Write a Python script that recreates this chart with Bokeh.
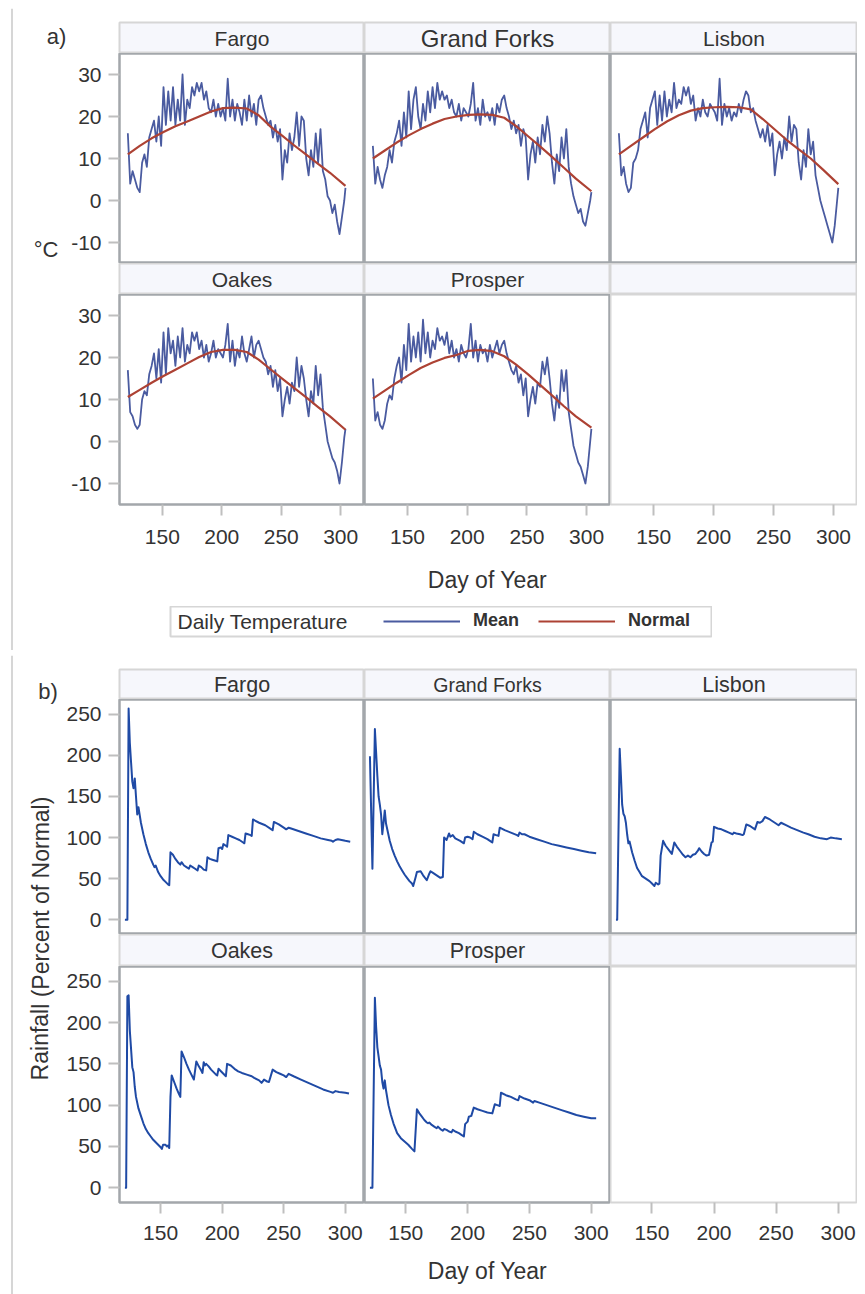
from bokeh.plotting import figure
from bokeh.layouts import row, column
from bokeh.models import Range1d, FixedTicker, Label, Legend, LegendItem, Span
from bokeh.embed import file_html
from bokeh.resources import INLINE
from bokeh.core.properties import value

# ---------------- data ----------------
STATIONS = ["Fargo", "Grand Forks", "Lisbon", "Oakes", "Prosper"]

DAYS_T = list(range(121, 304, 2)) + [304]

MEAN_FARGO = [16, 4, 7, 5, 3, 2, 9, 11, 8, 15,
              17, 19, 14, 20, 13, 27, 18, 26, 19, 27,
              18, 24, 19, 30, 18, 24, 22, 27, 25, 28,
              26, 28, 24, 26, 22, 21, 24, 20, 23, 20,
              22, 19, 29, 20, 24, 19, 23, 21, 18, 24,
              19, 25, 20, 23, 18, 24, 25, 22, 20, 18,
              19, 15, 18, 14, 17, 5, 12, 9, 16, 12,
              15, 21, 13, 20, 19, 10, 6, 12, 8, 16,
              9, 17, 7, 5, 1, 0, -3, -1, -5, -8,
              -4, 0, 3]
MEAN_GRANDFORKS = [13, 4, 8, 5, 3, 6, 8, 12, 9, 14,
                   16, 19, 13, 21, 15, 26, 17, 24, 27, 20,
                   17, 23, 19, 26, 21, 27, 22, 28, 24, 26,
                   24, 25, 22, 24, 21, 20, 23, 19, 22, 21,
                   20, 23, 28, 19, 22, 18, 24, 20, 21, 19,
                   22, 18, 23, 21, 24, 25, 22, 20, 17, 19,
                   16, 18, 13, 17, 15, 5, 11, 14, 9, 15,
                   11, 18, 14, 20, 16, 9, 4, 11, 7, 15,
                   10, 17, 8, 4, 1, -1, -3, -2, -5, -6,
                   -3, 0, 2]
MEAN_LISBON = [16, 6, 8, 4, 2, 3, 9, 10, 12, 17,
               19, 21, 15, 22, 24, 26, 18, 25, 19, 26,
               20, 24, 21, 28, 22, 24, 23, 27, 25, 27,
               23, 25, 19, 22, 20, 24, 21, 20, 23, 22,
               21, 19, 29, 18, 23, 20, 22, 19, 21, 20,
               23, 21, 24, 26, 25, 21, 22, 19, 17, 15,
               17, 14, 18, 13, 16, 6, 11, 14, 10, 15,
               12, 20, 14, 18, 17, 9, 5, 12, 8, 17,
               11, 14, 6, 3, 0, -2, -4, -6, -8, -10,
               -6, 0, 3]
MEAN_OAKES = [17, 7, 6, 4, 3, 4, 10, 12, 11, 16,
              18, 21, 15, 22, 14, 26, 16, 27, 21, 24,
              18, 25, 20, 27, 19, 23, 21, 26, 24, 26,
              22, 24, 20, 23, 19, 21, 24, 20, 22, 21,
              20, 23, 28, 19, 24, 18, 22, 20, 25, 21,
              19, 22, 25, 20, 23, 24, 22, 20, 19, 16,
              18, 13, 17, 12, 15, 6, 10, 13, 9, 14,
              12, 20, 13, 18, 15, 10, 6, 12, 9, 18,
              11, 16, 8, 4, 0, -2, -4, -5, -7, -10,
              -5, 1, 3]
MEAN_PROSPER = [15, 5, 7, 4, 3, 5, 9, 11, 10, 15,
                18, 20, 14, 23, 17, 28, 19, 25, 20, 26,
                19, 29, 21, 26, 20, 24, 22, 27, 24, 25,
                23, 26, 21, 24, 20, 22, 19, 23, 21, 20,
                22, 28, 20, 24, 19, 23, 21, 22, 19, 23,
                20, 22, 24, 21, 23, 24, 21, 19, 17, 16,
                18, 14, 16, 11, 15, 6, 10, 13, 9, 14,
                13, 19, 16, 20, 15, 9, 5, 11, 8, 17,
                12, 17, 7, 3, -1, -3, -5, -6, -8, -10,
                -6, 0, 3]

NORM_DAYS = [121, 131, 141, 151, 161, 171, 181, 191, 201, 211,
             221, 231, 241, 251, 261, 271, 281, 291, 304]
NORM_FARGO = [11.0, 13.0, 14.8, 16.3, 17.7, 18.8, 20.0, 21.2, 22.0, 22.1,
              21.9, 20.3, 17.6, 15.4, 13.1, 10.9, 8.7, 6.6, 3.5]
NORM_GRANDFORKS = [10.0, 11.9, 13.8, 15.5, 17.0, 18.3, 19.4, 20.0, 20.4, 20.5,
                   20.4, 19.7, 17.7, 15.3, 12.9, 10.4, 7.8, 5.2, 2.2]
NORM_LISBON = [11.0, 13.0, 15.0, 17.0, 18.8, 20.3, 21.4, 22.0, 22.2, 22.3,
               22.2, 21.7, 19.4, 16.9, 14.4, 12.2, 10.0, 7.4, 3.9]
NORM_OAKES = [10.6, 12.3, 14.0, 15.6, 17.1, 18.6, 20.1, 21.3, 21.8, 21.8,
              21.3, 19.5, 17.2, 14.9, 12.7, 10.5, 8.2, 6.0, 2.8]
NORM_PROSPER = [10.2, 12.1, 14.0, 15.8, 17.5, 18.8, 19.9, 20.6, 21.6, 21.8,
                21.5, 20.3, 18.3, 16.0, 13.5, 11.0, 8.4, 6.0, 3.3]

RAIN_DAYS_FARGO = [121, 123, 124, 125, 127, 128, 129, 130, 131, 132,
                   134, 136, 138, 140, 142, 144, 145, 146, 148, 150,
                   152, 154, 156, 157, 158, 160, 162, 164, 166, 167,
                   169, 171, 173, 174, 176, 178, 180, 181, 183, 185,
                   187, 188, 190, 192, 194, 196, 197, 199, 200, 201,
                   203, 204, 205, 208, 211, 214, 217, 218, 219, 221,
                   223, 224, 225, 230, 235, 240, 241, 242, 246, 250,
                   252, 254, 256, 262, 268, 274, 280, 286, 289, 290,
                   292, 294, 297, 300, 304]
RAIN_FARGO = [0, 0, 257, 215, 168, 160, 172, 150, 128, 137,
              118, 104, 92, 82, 74, 67, 64, 66, 58, 53,
              49, 46, 43, 42, 82, 79, 74, 70, 67, 70,
              66, 64, 62, 66, 64, 62, 60, 66, 64, 61,
              60, 76, 74, 73, 72, 71, 87, 88, 86, 92,
              90, 89, 103, 101, 99, 97, 94, 93, 105, 104,
              103, 102, 122, 118, 115, 110, 109, 119, 116, 112,
              110, 112, 111, 108, 105, 102, 99, 97, 96, 95,
              97, 98, 97, 96, 95]

RAIN_DAYS_GRANDFORKS = [121, 123, 125, 127, 128, 129, 130, 131, 132, 133,
                        134, 135, 137, 139, 141, 143, 145, 147, 149, 151,
                        153, 155, 156, 158, 159, 162, 164, 167, 169, 170,
                        172, 175, 178, 180, 181, 183, 185, 186, 188, 190,
                        194, 197, 198, 200, 202, 204, 205, 208, 212, 216,
                        219, 220, 221, 223, 225, 226, 230, 235, 240, 241,
                        242, 244, 246, 250, 256, 262, 268, 274, 280, 286,
                        292, 298, 304]
RAIN_GRANDFORKS = [199, 62, 232, 175, 150, 140, 128, 104, 118, 133,
                   117, 110, 96, 86, 78, 71, 65, 60, 55, 51,
                   47, 44, 41, 52, 58, 59, 54, 48, 56, 59,
                   57, 54, 51, 52, 100, 97, 105, 101, 103, 99,
                   96, 93, 100, 101, 100, 98, 107, 104, 101, 98,
                   95, 94, 104, 103, 102, 112, 109, 106, 103, 102,
                   106, 104, 104, 101, 98, 95, 92, 90, 88, 86,
                   84, 82, 81]

RAIN_DAYS_LISBON = [121, 122, 124, 125, 126, 127, 128, 129, 130, 131,
                    132, 134, 136, 138, 140, 142, 145, 148, 150, 152,
                    153, 155, 156, 157, 159, 161, 164, 166, 168, 170,
                    173, 175, 177, 179, 181, 183, 185, 187, 188, 190,
                    192, 194, 196, 198, 199, 200, 203, 206, 209, 212,
                    215, 216, 218, 221, 223, 224, 226, 229, 233, 235,
                    237, 239, 241, 245, 249, 252, 254, 258, 262, 267,
                    272, 276, 281, 286, 291, 294, 298, 303]
RAIN_LISBON = [0, 0, 208, 175, 140, 129, 126, 118, 104, 93,
               95, 82, 72, 63, 58, 53, 50, 47, 44, 41,
               45, 43, 44, 78, 96, 90, 84, 80, 94, 89,
               83, 79, 76, 78, 76, 79, 80, 84, 87, 83,
               80, 78, 79, 94, 95, 113, 111, 110, 108, 106,
               104, 106, 105, 104, 103, 104, 116, 114, 110, 119,
               118, 120, 125, 122, 118, 115, 118, 115, 112, 109,
               106, 104, 101, 99, 98, 100, 99, 98]

RAIN_DAYS_OAKES = [121, 122, 123, 124, 125, 127, 128, 129, 130, 132,
                   134, 136, 138, 140, 142, 144, 146, 148, 150, 151,
                   152, 154, 155, 156, 157, 158, 159, 161, 163, 165,
                   166, 167, 169, 171, 173, 175, 177, 179, 181, 183,
                   184, 185, 186, 187, 189, 191, 193, 195, 196, 197,
                   199, 201, 203, 204, 207, 210, 213, 216, 220, 224,
                   226, 230, 232, 234, 236, 238, 241, 244, 247, 250,
                   252, 254, 258, 264, 270, 276, 282, 288, 290, 292,
                   295, 300, 303]
RAIN_OAKES = [0, 0, 232, 233, 190, 146, 140, 122, 110, 96,
              87, 78, 71, 66, 62, 58, 55, 52, 49, 47,
              52, 52, 50, 51, 48, 110, 136, 128, 120, 113,
              110, 165, 158, 150, 143, 137, 131, 153, 147, 142,
              139, 152, 148, 150, 147, 143, 140, 137, 136, 144,
              141, 138, 135, 150, 148, 144, 141, 139, 137, 135,
              133, 130, 127, 131, 129, 128, 143, 140, 138, 136,
              134, 138, 135, 131, 127, 123, 119, 116, 115, 117,
              116, 115, 114]

RAIN_DAYS_PROSPER = [121, 123, 125, 126, 127, 128, 129, 130, 131, 132,
                     133, 134, 136, 138, 140, 143, 146, 149, 152, 155,
                     157, 159, 161, 163, 165, 167, 168, 169, 171, 173,
                     175, 176, 178, 180, 181, 183, 185, 187, 188, 190,
                     193, 195, 197, 198, 200, 201, 203, 205, 208, 212,
                     216, 220, 222, 224, 226, 227, 231, 235, 239, 241,
                     242, 246, 250, 253, 254, 258, 264, 270, 276, 282,
                     288, 294, 300, 304]
RAIN_PROSPER = [0, 0, 230, 195, 170, 159, 148, 143, 128, 120,
                130, 118, 100, 88, 78, 66, 60, 56, 52, 47,
                44, 95, 90, 86, 82, 79, 78, 79, 76, 74,
                72, 74, 71, 69, 71, 70, 68, 67, 70, 68,
                66, 64, 62, 77, 80, 86, 87, 97, 95, 93,
                91, 90, 101, 100, 99, 115, 112, 110, 107, 106,
                111, 108, 106, 103, 105, 103, 100, 97, 94, 91,
                88, 86, 84, 84]

X_TICKS = [150, 200, 250, 300]
Y_TICKS_T = [-10, 0, 10, 20, 30]
Y_TICKS_R = [0, 50, 100, 150, 200, 250]

MEAN = {"Fargo": MEAN_FARGO, "Grand Forks": MEAN_GRANDFORKS, "Lisbon": MEAN_LISBON,
        "Oakes": MEAN_OAKES, "Prosper": MEAN_PROSPER}
NORM = {"Fargo": NORM_FARGO, "Grand Forks": NORM_GRANDFORKS, "Lisbon": NORM_LISBON,
        "Oakes": NORM_OAKES, "Prosper": NORM_PROSPER}
RAIN = {"Fargo": (RAIN_DAYS_FARGO, RAIN_FARGO),
        "Grand Forks": (RAIN_DAYS_GRANDFORKS, RAIN_GRANDFORKS),
        "Lisbon": (RAIN_DAYS_LISBON, RAIN_LISBON),
        "Oakes": (RAIN_DAYS_OAKES, RAIN_OAKES),
        "Prosper": (RAIN_DAYS_PROSPER, RAIN_PROSPER)}

# ---------------- style ----------------
FONT = "Liberation Sans"
TXT = "#333333"
BOX = "#d6d6d6"
HDR_FILL = "#f6f7fc"
FRAME = "#a3a7ab"
TICK = "#bfbfbf"
MEAN_COLOR = "#4a5ba0"
NORMAL_COLOR = "#ad4234"
RAIN_COLOR = "#1f4aa5"
TICK_SIZE = "21px"
FW = [245, 246, 247]


def new_fig(fw, fh, xr, yr, left=0, top=0, bottom=0, xloc=None, yloc=None):
    p = figure(frame_width=fw, frame_height=fh, x_range=xr, y_range=yr,
               x_axis_location=xloc, y_axis_location=yloc,
               toolbar_location=None, output_backend="svg",
               min_border=0, min_border_left=left, min_border_top=top,
               min_border_bottom=bottom, min_border_right=0)
    for g in p.grid:
        g.visible = False
    return p


def style_axis(ax, ticks, standoff):
    ax.ticker = FixedTicker(ticks=ticks)
    ax.major_label_overrides = {t: str(t) for t in ticks if t < 0}
    ax.minor_tick_line_color = None
    ax.major_tick_in = 0
    ax.major_tick_out = 11
    ax.major_tick_line_color = TICK
    ax.major_tick_line_width = 2
    ax.axis_line_color = None
    ax.major_label_text_font = FONT
    ax.major_label_text_font_size = TICK_SIZE
    ax.major_label_text_color = TXT
    ax.major_label_standoff = standoff


def header(name, fw, fh, left=0, top=0, size="21px"):
    p = new_fig(fw, fh, Range1d(0, 1), Range1d(0, 1), left=left, top=top)
    p.background_fill_color = HDR_FILL
    p.outline_line_color = BOX
    p.outline_line_width = 2
    if name:
        p.text(x=[0.5], y=[0.5], text=[name], text_align="center", text_baseline="middle",
               text_font=value(FONT), text_font_size=size, text_color=TXT)
    return p


def cell(fw, fh, xr, yr, yticks, left=0, bottom=0, yaxis=False, xaxis=False,
         empty=False, xlabel=None, xstand=8, label_stand=15):
    p = new_fig(fw, fh, Range1d(*xr), Range1d(*yr), left=left, bottom=bottom,
                xloc="below" if xaxis else None, yloc="left" if yaxis else None)
    p.outline_line_color = BOX if empty else FRAME
    p.outline_line_width = 2 if empty else 2.5
    if yaxis:
        style_axis(p.yaxis[0], yticks, 7)
    if xaxis:
        ax = p.xaxis[0]
        style_axis(ax, X_TICKS, xstand)
        if xlabel:
            ax.axis_label = xlabel
            ax.axis_label_text_font = FONT
            ax.axis_label_text_font_size = "23px"
            ax.axis_label_text_font_style = "normal"
            ax.axis_label_text_color = TXT
            ax.axis_label_standoff = label_stand
    return p


def left_fig(w, h):
    p = new_fig(w, h, Range1d(0, w), Range1d(h, 0))
    p.outline_line_color = None
    p.add_layout(Span(location=11.5, dimension="height", line_color=BOX, line_width=2))
    return p


# ---------------- top strip ----------------
top = new_fig(854, 8, Range1d(0, 1), Range1d(8, 0), left=11)
top.outline_line_color = None
top.add_layout(Span(location=5.5, dimension="width", line_color=BOX, line_width=2))

# ---------------- panel a ----------------
XA, YA = (114, 320), (-15, 35)
WL_A, BL_A = 66, 53
order = STATIONS + [""]
hdr_size_a = {"Grand Forks": "24px"}

rows_a = []
for r in range(2):
    hdrs, cells = [], []
    for c in range(3):
        st = order[r * 3 + c]
        left = BL_A if c == 0 else 0
        hdrs.append(header(st, FW[c], 31, left=left, top=14 if r == 0 else 0,
                           size=hdr_size_a.get(st, "21px")))
        p = cell(FW[c], 210, XA, YA, Y_TICKS_T, left=left,
                 bottom=102 if r == 1 else 0, yaxis=(c == 0), xaxis=(r == 1),
                 empty=(st == ""), xlabel="Day of Year" if (r == 1 and c == 1) else None,
                 xstand=14, label_stand=20)
        if st:
            p.line(DAYS_T[:len(MEAN[st])], MEAN[st][:len(DAYS_T)], line_color=MEAN_COLOR,
                   line_width=1.8, line_join="round")
            p.line(NORM_DAYS, NORM[st], line_color=NORMAL_COLOR, line_width=2.2, line_join="round")
        cells.append(p)
    rows_a.append(row(*hdrs))
    rows_a.append(row(*cells))

# legend (sample glyphs use off-frame points so only the legend swatches show)
lg = new_fig(542, 30, Range1d(0, 542), Range1d(0, 30), left=170 - WL_A, bottom=14)
lg.outline_line_color = BOX
lg.outline_line_width = 2
r_mean = lg.line(x=[-50, -40], y=[-50, -50], line_color=MEAN_COLOR, line_width=2)
r_norm = lg.line(x=[-50, -40], y=[-50, -50], line_color=NORMAL_COLOR, line_width=2)
legend = Legend(items=[LegendItem(label="Mean", renderers=[r_mean]),
                       LegendItem(label="Normal", renderers=[r_norm])],
                orientation="horizontal", location=(213, 5), glyph_width=77, glyph_height=20,
                label_standoff=13, spacing=19, padding=0, margin=0,
                border_line_color=None, background_fill_alpha=0,
                label_text_font=FONT, label_text_font_size="18px",
                label_text_font_style="bold", label_text_color=TXT)
lg.add_layout(legend)
lg.add_layout(Label(x=7, y=15, text="Daily Temperature", text_baseline="middle",
                    text_font=FONT, text_font_size="21px", text_color=TXT))

la = left_fig(WL_A, 642)
la.add_layout(Label(x=56, y=28, text="a)", text_align="center", text_baseline="middle",
                    text_font=FONT, text_font_size="22px", text_color=TXT))
la.add_layout(Label(x=45.5, y=241, text="°C", text_align="center", text_baseline="middle",
                    text_font=FONT, text_font_size="22px", text_color=TXT))

panel_a = row(la, column(*rows_a, lg))

# ---------------- separator ----------------
sep = new_fig(865, 5, Range1d(0, 1), Range1d(0, 1))
sep.background_fill_color = BOX
sep.border_fill_color = BOX
sep.outline_line_color = None

# ---------------- panel b ----------------
XB, YB = (116.6, 315.6), (-18, 268)
WL_B, BL_B = 60, 59
hdr_size_b = {"Grand Forks": "19.5px"}
rows_b = []
for r in range(2):
    hdrs, cells = [], []
    for c in range(3):
        st = order[r * 3 + c]
        left = BL_B if c == 0 else 0
        hdrs.append(header(st, FW[c], 30 if r == 0 else 32, left=left, top=14 if r == 0 else 0,
                           size=hdr_size_b.get(st, "21.5px")))
        p = cell(FW[c], 235 if r == 0 else 236, XB, YB, Y_TICKS_R, left=left,
                 bottom=92 if r == 1 else 0, yaxis=(c == 0), xaxis=(r == 1),
                 empty=(st == ""), xlabel="Day of Year" if (r == 1 and c == 1) else None,
                 xstand=12, label_stand=15)
        if st:
            d, v = RAIN[st]
            n = min(len(d), len(v))
            p.line(d[:n], v[:n], line_color=RAIN_COLOR, line_width=2, line_join="round")
        cells.append(p)
    rows_b.append(row(*hdrs))
    rows_b.append(row(*cells))

lb = left_fig(WL_B, 639)
lb.add_layout(Label(x=47.5, y=36, text="b)", text_align="center", text_baseline="middle",
                    text_font=FONT, text_font_size="22px", text_color=TXT))
lb.add_layout(Label(x=40, y=283, text="Rainfall (Percent of Normal)", angle=1.5707963,
                    text_align="center", text_baseline="middle",
                    text_font=FONT, text_font_size="23px", text_color=TXT))

panel_b = row(lb, column(*rows_b))

layout = column(top, panel_a, sep, panel_b)

open("out.html", "w").write(file_html(layout, INLINE, title="Temperature and Rainfall"))
